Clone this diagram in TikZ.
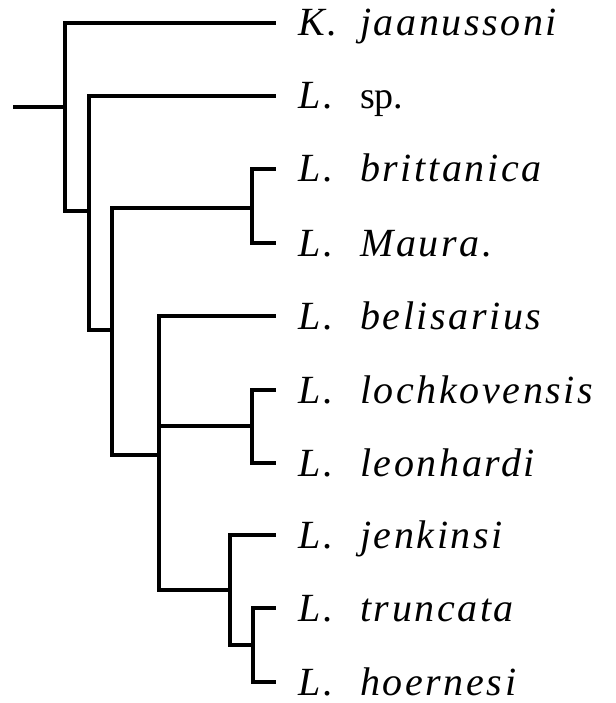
\documentclass[tikz,border=0pt]{standalone}
\usepackage{fontspec}
\setmainfont{Liberation Serif}
\newfontfamily\spacedfont[LetterSpace=6.5]{Liberation Serif}
\begin{document}
\begin{tikzpicture}[x=1pt,y=-1pt,
  branch/.style={line width=4.2pt, line join=miter, line cap=butt},
  taxon/.style={anchor=base west, inner sep=0pt, font=\fontsize{40}{46}\selectfont}]
\useasboundingbox (0,0) rectangle (615,703);
% internal nodes
\coordinate (r0) at (13,107);
\coordinate (n1) at (65,107);
\coordinate (n2) at (89,211);
\coordinate (n3) at (112,330);
\coordinate (nBM) at (252,208);
\coordinate (n4) at (159,455);
\coordinate (nLL) at (252,426);
\coordinate (n5) at (230,590);
\coordinate (nTH) at (253,645);
% tips
\coordinate (tK) at (276,23);
\coordinate (tSp) at (276,96);
\coordinate (tBr) at (276,169);
\coordinate (tMa) at (276,243);
\coordinate (tBe) at (276,316);
\coordinate (tLo) at (276,390);
\coordinate (tLe) at (276,463);
\coordinate (tJe) at (276,535);
\coordinate (tTr) at (276,608);
\coordinate (tHo) at (276,682);
% labels
\newcommand{\gen}[1]{\makebox[62pt][l]{\spacedfont\itshape #1}}
\newcommand{\spc}[1]{{\spacedfont\itshape #1}}
\node[taxon] (lK) at (298,36) {\gen{K.}\spc{jaanussoni}};
\node[taxon] (lSp) at (298,109) {\gen{L.}{\fontsize{38}{42}\selectfont sp.}};
\node[taxon] (lBr) at (298,182) {\gen{L.}\spc{brittanica}};
\node[taxon] (lMa) at (298,256) {\gen{L.}\spc{Maura.}};
\node[taxon] (lBe) at (298,329) {\gen{L.}\spc{belisarius}};
\node[taxon] (lLo) at (298,403) {\gen{L.}\spc{lochkovensis}};
\node[taxon] (lLe) at (298,476) {\gen{L.}\spc{leonhardi}};
\node[taxon] (lJe) at (298,548) {\gen{L.}\spc{jenkinsi}};
\node[taxon] (lTr) at (298,621) {\gen{L.}\spc{truncata}};
\node[taxon] (lHo) at (298,695) {\gen{L.}\spc{hoernesi}};
% branches
\draw[branch] (r0) -- (n1);
\draw[branch] (n1) |- (tK);
\draw[branch] (n1) |- (n2);
\draw[branch] (n2) |- (tSp);
\draw[branch] (n2) |- (n3);
\draw[branch] (n3) |- (nBM);
\draw[branch] (n3) |- (n4);
\draw[branch] (nBM) |- (tBr);
\draw[branch] (nBM) |- (tMa);
\draw[branch] (n4) |- (tBe);
\draw[branch] (n4) |- (nLL);
\draw[branch] (n4) |- (n5);
\draw[branch] (nLL) |- (tLo);
\draw[branch] (nLL) |- (tLe);
\draw[branch] (n5) |- (tJe);
\draw[branch] (n5) |- (nTH);
\draw[branch] (nTH) |- (tTr);
\draw[branch] (nTH) |- (tHo);
\end{tikzpicture}
\end{document}
